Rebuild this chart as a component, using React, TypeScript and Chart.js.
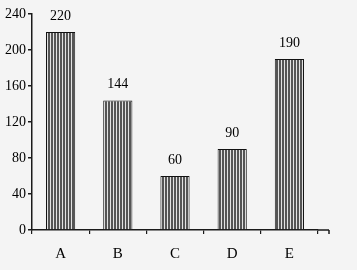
import React, { useEffect, useRef } from "react";
import { Chart, registerables } from "chart.js";

Chart.register(...registerables);

const categories = ["A", "B", "C", "D", "E"];
const values = [220, 144, 60, 90, 190];
const yTicks = [0, 40, 80, 120, 160, 200, 240];

function makePattern(): CanvasPattern | string {
  const c = document.createElement("canvas");
  c.width = 3;
  c.height = 4;
  const ctx = c.getContext("2d");
  if (!ctx) return "#666";
  ctx.fillStyle = "#555555";
  ctx.fillRect(0, 0, 2, 4);
  ctx.fillStyle = "#e2e2e2";
  ctx.fillRect(2, 0, 1, 4);
  const p = ctx.createPattern(c, "repeat");
  return p || "#666";
}

const valueLabels = {
  id: "valueLabels",
  afterDatasetsDraw(chart: any) {
    const ctx = chart.ctx;
    const meta = chart.getDatasetMeta(0);
    ctx.save();
    ctx.fillStyle = "#000";
    ctx.font = "14px 'Liberation Serif', serif";
    ctx.textAlign = "center";
    ctx.textBaseline = "bottom";
    meta.data.forEach((bar: any, i: number) => {
      ctx.fillText(String(values[i]), bar.x, bar.y - 9);
    });
    ctx.restore();
  },
};

const axisExtend = {
  id: "axisExtend",
  afterDraw(chart: any) {
    const { ctx, chartArea } = chart;
    ctx.save();
    ctx.strokeStyle = "#1a1a1a";
    ctx.lineWidth = 1.5;
    ctx.beginPath();
    ctx.moveTo(chartArea.right, chartArea.bottom);
    ctx.lineTo(chartArea.right + 11, chartArea.bottom);
    ctx.moveTo(chartArea.right + 11, chartArea.bottom);
    ctx.lineTo(chartArea.right + 11, chartArea.bottom + 4);
    ctx.stroke();
    ctx.restore();
  },
};

const bgPlugin = {
  id: "bg",
  beforeDraw(chart: any) {
    const ctx = chart.ctx;
    ctx.save();
    ctx.fillStyle = "#f4f4f4";
    ctx.fillRect(0, 0, chart.width, chart.height);
    ctx.restore();
  },
};

export default function App() {
  const ref = useRef<HTMLCanvasElement>(null);
  useEffect(() => {
    if (!ref.current) return;
    const chart = new Chart(ref.current, {
      type: "bar",
      data: {
        labels: categories,
        datasets: [
          {
            data: values,
            backgroundColor: makePattern() as any,
            borderColor: "#111",
            borderWidth: 1,
            barPercentage: 0.51,
            categoryPercentage: 1,
          },
        ],
      },
      options: {
        animation: false,
        responsive: false,
        layout: { padding: { top: 14, right: 39, left: 0, bottom: 0 } },
        plugins: { legend: { display: false }, tooltip: { enabled: false } },
        scales: {
          x: {
            afterFit(scale: any) {
              scale.height = 40;
            },
            grid: {
              display: true,
              drawOnChartArea: false,
              drawTicks: true,
              tickLength: 4,
              color: "#1a1a1a",
              lineWidth: 1.2,
              offset: true,
            },
            border: { display: true, color: "#1a1a1a", width: 1.5 },
            ticks: {
              color: "#000",
              font: { family: "'Liberation Serif', serif", size: 15 },
              padding: 11,
            },
          },
          y: {
            min: 0,
            max: 240,
            afterFit(scale: any) {
              scale.width = 32;
            },
            afterBuildTicks(scale: any) {
              scale.ticks = yTicks.map((v) => ({ value: v }));
            },
            grid: {
              display: true,
              drawOnChartArea: false,
              drawTicks: true,
              tickLength: 4,
              color: "#1a1a1a",
              lineWidth: 1.5,
            },
            border: { display: true, color: "#1a1a1a", width: 1.5 },
            ticks: {
              color: "#000",
              font: { family: "'Liberation Serif', serif", size: 14 },
              padding: 2,
            },
          },
        },
      },
      plugins: [bgPlugin, valueLabels, axisExtend],
    });
    return () => chart.destroy();
  }, []);
  return (
    <div style={{ position: "absolute", left: 0, top: 0, width: 357, height: 270 }}>
      <canvas ref={ref} width={357} height={270} style={{ display: "block" }} />
    </div>
  );
}
